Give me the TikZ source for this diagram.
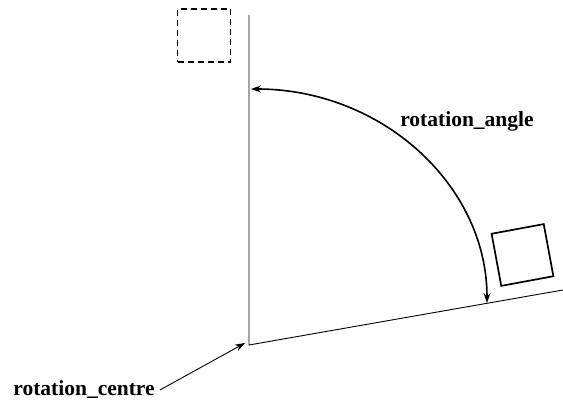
\documentclass[tikz,border=0pt]{standalone}
\usepackage{fontspec}
\setmainfont{Liberation Serif}
\usetikzlibrary{arrows.meta}
\tikzset{
  hop/.style={draw, line width=1.7pt, minimum size=53pt, inner sep=0pt},
  nhan/.style={font=\bfseries\fontsize{21.5}{26}\selectfont, inner sep=0pt},
  muiten/.style={-{Stealth[length=10pt,width=7pt]}}
}
\begin{document}
\begin{tikzpicture}[x=1pt,y=1pt]
    \useasboundingbox (0,0) rectangle (563,401);
    % Tâm quay và hai tia
    \coordinate (O) at (249,56);
    \coordinate (tren) at (249,386);
    \coordinate (tia) at (563,111);
    \draw[line width=0.9pt] (tren) -- (O) -- (tia);
    
    % Cung góc quay
    \coordinate (cuoi) at (487,98);
    \draw[{Stealth[length=10pt,width=7pt]}-{Stealth[length=10pt,width=7pt]}, line width=1.6pt]
        (cuoi) arc[start angle=0, end angle=90, x radius=236, y radius=214];
    
    % Hình vuông trước và sau khi quay
    \node[hop, dash pattern=on 6pt off 4pt] (cu) at (204,365.5) {};
    \node[hop, rotate=10.5] (moi) at (522.5,146) {};
    
    % Nhãn
    \node[nhan, anchor=base] (goc) at (467,274) {rotation\_angle};
    \node[nhan, anchor=base] (tam) at (84,5) {rotation\_centre};
    \draw[muiten, line width=0.9pt] ([xshift=5pt]tam.east) -- ([shift={(-4pt,2pt)}]O);
\end{tikzpicture}
\end{document}
